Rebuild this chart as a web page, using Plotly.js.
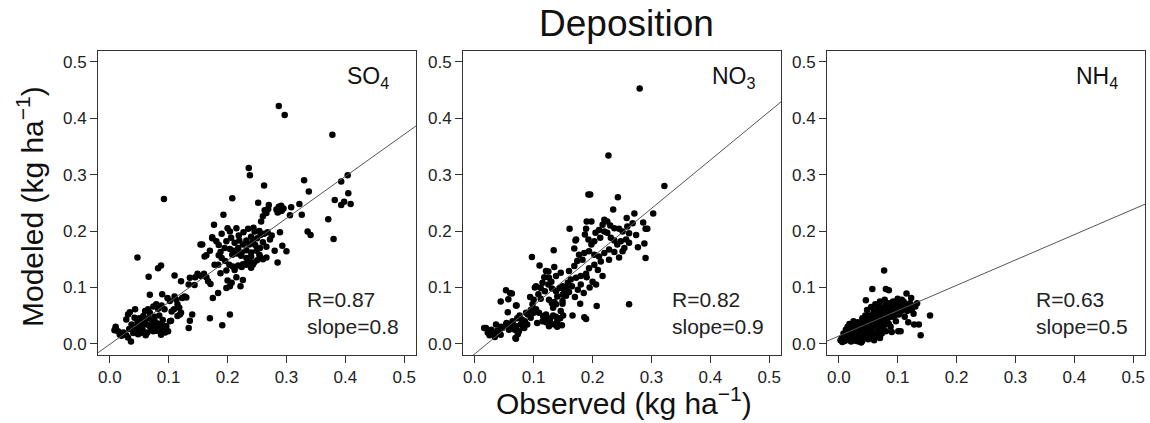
<!DOCTYPE html>
<html>
<head>
<meta charset="utf-8">
<script src="https://cdn.plot.ly/plotly-3.0.1.min.js"></script>
<style>html,body{margin:0;padding:0;background:#fff;}#chart{width:1150px;height:423px;}</style>
</head>
<body>
<div id="chart"></div>
<script>
// ---------- data ----------
const panelNames = ["SO<sub>4</sub>", "NO<sub>3</sub>", "NH<sub>4</sub>"];
const rValues = ["0.87", "0.82", "0.63"];
const slopeLabels = ["0.8", "0.9", "0.5"];
const fitSlope = [0.745, 0.86, 0.45];
const fitIntercept = [-0.001, -0.018, 0.0136];
const tickValues = [0, 0.1, 0.2, 0.3, 0.4, 0.5];
const tickLabels = ["0.0", "0.1", "0.2", "0.3", "0.4", "0.5"];
const axisRange = [-0.02, 0.52];

const so4Obs = [0.010,0.008,0.014,0.017,0.010,0.020,0.023,0.025,0.031,0.036,0.037,0.040,0.045,0.048,0.042,0.047,0.051,0.054,0.034,0.043,0.031,0.028,0.060,0.057,0.060,0.062,0.068,0.071,0.074,0.079,0.085,0.091,0.096,0.102,0.099,0.065,0.068,0.074,0.079,0.082,0.088,0.093,0.105,0.109,0.066,0.072,0.078,0.084,0.090,0.076,0.084,0.090,0.056,0.052,0.064,0.070,0.082,0.058,0.050,0.045,0.040,0.033,0.028,0.061,0.087,0.094,0.078,0.088,
0.047,0.082,0.087,0.066,0.068,0.089,0.098,0.102,0.110,0.113,0.115,0.118,0.121,0.123,0.127,0.130,0.104,0.115,0.119,0.134,0.136,0.140,0.110,0.121,0.136,0.134,0.144,0.155,0.160,0.167,0.171,0.154,0.161,0.174,0.185,0.224,0.232,0.212,0.198,0.207,0.204,0.198,0.222,0.184,0.175,0.204,0.191,0.170,0.149,0.164,0.178,0.188,0.200,0.215,0.226,0.240,0.243,0.255,0.250,0.145,
0.287,0.297,0.378,0.236,0.238,0.262,0.208,0.092,0.330,0.338,0.393,0.404,0.405,0.382,0.393,0.398,0.409,0.371,0.380,0.336,0.341,0.326,0.322,0.308,0.306,0.283,0.287,0.291,0.295,0.289,0.285,0.292,0.270,0.269,0.263,0.266,0.260,0.257,0.252,0.193,0.177,0.174,0.157,0.164,0.204,0.215,0.227,0.235,0.244,0.246,0.254,0.198,0.206,0.212,0.220,0.226,0.232,0.237,0.243,0.250,0.256,0.262,0.268,0.195,0.204,0.210,0.218,0.224,0.232,0.240,0.249,0.255,0.254,0.240,0.232,0.223,0.216,0.208,0.188,0.190,0.184,0.196,0.203,0.209,0.218,0.226,0.232,0.238,0.245,0.260,0.266,0.289,0.293,0.300,0.285,0.260,0.272,0.266,0.280,0.275,0.200,0.190,0.219,0.185,0.170,0.240,0.247,0.181];
const so4Mod = [0.030,0.024,0.022,0.016,0.027,0.014,0.020,0.017,0.011,0.004,0.034,0.027,0.022,0.017,0.046,0.039,0.034,0.028,0.056,0.061,0.052,0.043,0.058,0.049,0.043,0.034,0.031,0.025,0.022,0.023,0.022,0.026,0.031,0.040,0.022,0.061,0.055,0.066,0.070,0.062,0.068,0.061,0.057,0.061,0.045,0.040,0.038,0.035,0.033,0.048,0.050,0.042,0.024,0.019,0.020,0.029,0.028,0.038,0.045,0.030,0.019,0.026,0.015,0.015,0.016,0.020,0.032,0.028,
0.153,0.134,0.139,0.119,0.087,0.088,0.081,0.076,0.084,0.078,0.070,0.064,0.055,0.081,0.084,0.082,0.041,0.049,0.052,0.028,0.041,0.052,0.121,0.111,0.117,0.105,0.104,0.120,0.124,0.111,0.106,0.176,0.155,0.187,0.157,0.136,0.140,0.131,0.130,0.108,0.102,0.099,0.102,0.090,0.081,0.052,0.033,0.045,0.124,0.118,0.140,0.125,0.112,0.118,0.113,0.135,0.140,0.155,0.148,0.118,
0.422,0.406,0.371,0.312,0.299,0.281,0.258,0.257,0.290,0.270,0.288,0.299,0.267,0.255,0.246,0.252,0.248,0.221,0.186,0.199,0.193,0.229,0.248,0.242,0.228,0.238,0.243,0.245,0.240,0.235,0.233,0.236,0.246,0.239,0.237,0.232,0.226,0.217,0.250,0.229,0.211,0.189,0.176,0.157,0.199,0.205,0.198,0.204,0.206,0.199,0.200,0.182,0.188,0.179,0.183,0.176,0.183,0.176,0.181,0.187,0.193,0.195,0.198,0.170,0.168,0.165,0.170,0.162,0.166,0.162,0.165,0.170,0.158,0.155,0.152,0.156,0.160,0.158,0.163,0.152,0.140,0.147,0.140,0.137,0.139,0.141,0.142,0.145,0.144,0.150,0.153,0.198,0.174,0.164,0.144,0.180,0.185,0.172,0.165,0.192,0.205,0.195,0.192,0.175,0.165,0.190,0.175,0.182];

const no3Obs = [0.280,0.227,0.322,0.193,0.196,0.243,0.235,0.271,0.303,0.258,0.286,0.290,0.293,0.288,0.277,0.290,0.262,0.207,0.161,0.171,0.134,0.097,0.110,0.186,0.189,0.166,0.179,0.149,0.135,0.170,
0.190,0.198,0.220,0.225,0.217,0.230,0.237,0.245,0.251,0.262,0.257,0.248,0.242,0.237,0.231,0.225,0.220,0.211,0.205,0.213,0.203,0.198,0.193,0.187,0.189,0.172,0.169,0.177,0.186,0.194,0.203,0.211,0.220,0.228,0.237,0.245,0.251,0.254,0.228,0.214,0.203,0.194,0.189,0.180,0.172,0.163,0.158,0.155,0.152,0.149,0.160,0.169,0.174,0.183,0.209,0.217,0.206,0.259,0.268,0.274,0.262,
0.135,0.121,0.126,0.138,0.146,0.104,0.112,0.119,0.125,0.131,0.138,0.144,0.098,0.104,0.109,0.116,0.124,0.129,0.135,0.140,0.121,0.115,0.106,0.095,0.089,0.084,0.075,0.069,0.078,0.087,0.053,0.063,0.044,0.057,0.070,0.056,0.019,0.027,0.033,0.038,0.044,0.047,0.036,0.053,0.058,0.064,0.070,
0.138,0.149,0.146,0.133,0.126,0.140,0.149,0.131,0.128,0.138,0.145,0.150,0.140,0.126,0.148,0.121,0.133,0.155,0.160,0.175,0.165,0.185,0.180,0.195,0.200,0.190,0.102,0.108,0.115,0.118,0.125,0.130,0.112,0.100,0.094,0.064,0.072,0.076,0.080,0.085,0.090,0.082,0.068,0.073,0.062,0.095,0.100,0.016,0.022,0.025,0.030,0.034,0.028,0.040,0.044,0.070,0.060,0.071,0.054,0.059];
const no3Mod = [0.453,0.334,0.280,0.265,0.265,0.260,0.238,0.231,0.231,0.223,0.215,0.204,0.204,0.178,0.171,0.152,0.070,0.067,0.204,0.183,0.166,0.154,0.139,0.047,0.044,0.050,0.071,0.071,0.074,0.083,
0.217,0.217,0.220,0.217,0.211,0.210,0.205,0.204,0.199,0.196,0.185,0.182,0.176,0.183,0.188,0.197,0.199,0.202,0.197,0.188,0.182,0.176,0.185,0.194,0.204,0.185,0.169,0.158,0.161,0.164,0.158,0.155,0.161,0.167,0.163,0.153,0.164,0.170,0.149,0.146,0.140,0.134,0.124,0.120,0.117,0.114,0.108,0.099,0.093,0.102,0.129,0.138,0.147,0.149,0.131,0.120,0.105,0.208,0.214,0.193,0.179,
0.136,0.129,0.117,0.120,0.126,0.102,0.099,0.093,0.105,0.098,0.093,0.099,0.070,0.061,0.055,0.049,0.043,0.037,0.034,0.040,0.052,0.040,0.037,0.046,0.034,0.028,0.022,0.010,0.034,0.055,0.095,0.089,0.075,0.079,0.068,0.056,0.028,0.022,0.019,0.023,0.016,0.028,0.034,0.034,0.025,0.040,0.031,
0.070,0.076,0.058,0.064,0.078,0.084,0.087,0.072,0.045,0.048,0.045,0.050,0.030,0.031,0.033,0.038,0.050,0.085,0.092,0.096,0.102,0.090,0.105,0.100,0.110,0.118,0.100,0.088,0.108,0.118,0.128,0.110,0.080,0.078,0.083,0.037,0.045,0.050,0.043,0.040,0.052,0.030,0.025,0.017,0.028,0.060,0.055,0.028,0.020,0.015,0.018,0.012,0.025,0.022,0.030,0.009,0.090,0.068,0.037,0.032];

const nh4Obs = [0.077,0.057,0.080,0.085,0.115,0.123,0.155,0.136,0.128,0.118,0.139,0.105,0.101,0.090,0.046,0.124,0.110,0.100,0.095,
0.005,0.008,0.010,0.012,0.014,0.016,0.018,0.020,0.022,0.024,0.026,0.028,0.030,0.031,0.033,0.035,0.036,0.038,0.039,0.041,0.042,0.044,0.045,0.047,0.048,0.050,0.050,0.052,0.053,0.055,0.056,0.058,0.059,0.060,0.062,0.063,0.064,0.066,0.067,0.069,0.070,0.071,0.073,0.074,0.076,0.077,0.079,0.080,0.082,0.083,0.085,0.086,0.088,0.089,0.091,0.092,0.094,0.096,0.097,0.099,0.101,0.102,0.104,0.106,0.108,0.110,0.112,0.113,0.116,0.118,0.121,0.125,0.130,0.133,0.127,
0.006,0.012,0.015,0.019,0.021,0.023,0.027,0.029,0.032,0.034,0.037,0.040,0.043,0.046,0.049,0.051,0.054,0.057,0.058,0.061,0.065,0.068,0.072,0.075,0.078,0.081,0.084,0.087,0.090,0.093,0.095,0.098,0.103,0.107,0.111,0.114,0.060,0.070,0.065,0.080,0.075,0.085,0.045,0.040,0.035,0.025,0.010,0.003,0.018,0.055,0.062,0.048,0.070,0.078];
const nh4Mod = [0.130,0.097,0.097,0.095,0.089,0.081,0.050,0.034,0.034,0.038,0.015,0.022,0.022,0.021,0.077,0.060,0.075,0.080,0.070,
0.010,0.018,0.005,0.025,0.012,0.020,0.006,0.028,0.015,0.010,0.022,0.032,0.005,0.017,0.026,0.012,0.036,0.002,0.021,0.030,0.010,0.040,0.018,0.026,0.045,0.034,0.008,0.015,0.050,0.040,0.022,0.030,0.056,0.045,0.012,0.036,0.060,0.050,0.025,0.040,0.065,0.055,0.018,0.045,0.060,0.033,0.068,0.050,0.040,0.062,0.072,0.055,0.030,0.065,0.048,0.075,0.058,0.068,0.040,0.062,0.075,0.052,0.066,0.058,0.070,0.062,0.048,0.068,0.058,0.065,0.072,0.068,0.066,0.072,0.053,
0.003,0.008,0.030,0.013,0.004,0.034,0.008,0.019,0.038,0.004,0.015,0.005,0.024,0.032,0.020,0.042,0.028,0.012,0.046,0.033,0.042,0.030,0.035,0.052,0.042,0.058,0.046,0.060,0.055,0.065,0.050,0.072,0.060,0.078,0.072,0.065,0.006,0.010,0.020,0.022,0.028,0.035,0.050,0.045,0.028,0.040,0.015,0.006,0.035,0.065,0.070,0.060,0.075,0.078];

const obsSets = [so4Obs, no3Obs, nh4Obs];
const modSets = [so4Mod, no3Mod, nh4Mod];

// ---------- layout geometry ----------
const W = 1150, H = 423;
const panelLeftPx = [98, 463, 827];
const panelWidthPx = 318;
const plotTopPx = 50.7, plotBottomPx = 355;
const FONT = '"Liberation Sans", Arial, Helvetica, sans-serif';

const traces = [];
const layout = {
  width: W, height: H,
  margin: {l: 0, r: 0, t: 0, b: 0},
  paper_bgcolor: '#fff', plot_bgcolor: '#fff',
  showlegend: false,
  font: {family: FONT, color: '#222'},
  annotations: []
};

for (let i = 0; i < 3; i++) {
  const sx = i === 0 ? '' : String(i + 1);
  const xa = 'x' + sx, ya = 'y' + sx;
  traces.push({
    type: 'scatter', mode: 'markers', x: obsSets[i], y: modSets[i],
    xaxis: xa, yaxis: ya,
    marker: {color: '#000', size: 6.5, line: {width: 0}},
    hoverinfo: 'skip'
  });
  const lx = axisRange.slice();
  traces.push({
    type: 'scatter', mode: 'lines', x: lx,
    y: lx.map(v => fitIntercept[i] + fitSlope[i] * v),
    xaxis: xa, yaxis: ya,
    line: {color: '#555', width: 1},
    hoverinfo: 'skip', cliponaxis: true
  });
  const axCommon = {
    range: axisRange, tickmode: 'array', tickvals: tickValues, ticktext: tickLabels,
    ticks: 'outside', ticklen: 7, tickwidth: 1, tickcolor: '#333',
    showline: true, mirror: true, linecolor: '#333', linewidth: 1,
    showgrid: false, zeroline: false,
    tickfont: {family: FONT, size: 17, color: '#222'}
  };
  layout['xaxis' + sx] = Object.assign({}, axCommon, {
    domain: [panelLeftPx[i] / W, (panelLeftPx[i] + panelWidthPx) / W],
    anchor: ya
  });
  layout['yaxis' + sx] = Object.assign({}, axCommon, {
    domain: [1 - plotBottomPx / H, 1 - plotTopPx / H],
    anchor: xa
  });
  layout.annotations.push({
    xref: xa, yref: ya, x: 0.4, y: 0.472, xanchor: 'left', yanchor: 'middle',
    text: panelNames[i], showarrow: false,
    font: {family: FONT, size: 23, color: '#111'}
  });
  layout.annotations.push({
    xref: xa, yref: ya, x: 0.331, y: 0.054, xanchor: 'left', yanchor: 'middle', align: 'left',
    text: 'R=' + rValues[i] + '<br>slope=' + slopeLabels[i], showarrow: false,
    font: {family: FONT, size: 21, color: '#222'}
  });
}

layout.annotations.push({
  xref: 'paper', yref: 'paper', x: 626 / W, y: 1 - 24 / H, xanchor: 'center', yanchor: 'middle',
  text: 'Deposition', showarrow: false, font: {family: FONT, size: 37, color: '#111'}
});
layout.annotations.push({
  xref: 'paper', yref: 'paper', x: 624 / W, y: 1 - 401 / H, xanchor: 'center', yanchor: 'middle',
  text: 'Observed (kg ha<sup>\u22121</sup>)', showarrow: false, font: {family: FONT, size: 30, color: '#111'}
});
layout.annotations.push({
  xref: 'paper', yref: 'paper', x: 30 / W, y: 1 - 207 / H, xanchor: 'center', yanchor: 'middle',
  textangle: -90,
  text: 'Modeled (kg ha<sup>\u22121</sup>)', showarrow: false, font: {family: FONT, size: 30, color: '#111'}
});

Plotly.newPlot('chart', traces, layout, {staticPlot: true, displayModeBar: false});
</script>
</body>
</html>
